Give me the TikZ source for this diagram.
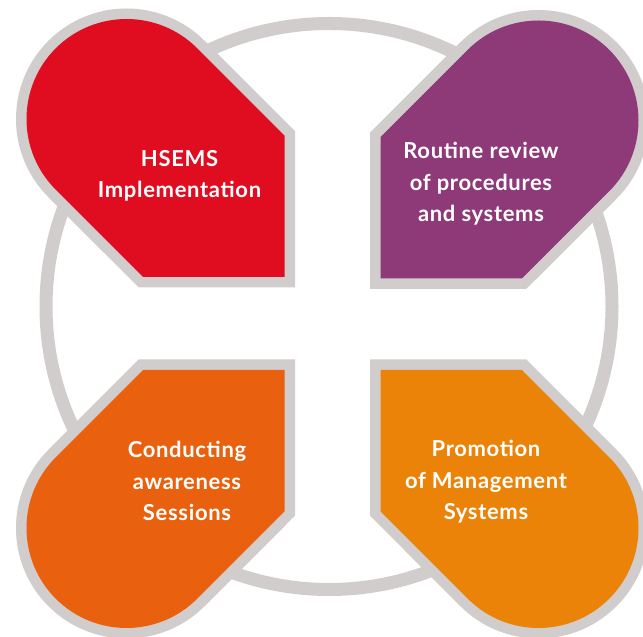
\documentclass[tikz,border=0pt]{standalone}
\usepackage{fontspec}
\setmainfont{Lato}[LetterSpace=3]
\definecolor{ringgray}{HTML}{D1CDCC}
\definecolor{petalred}{HTML}{E00D21}
\definecolor{petalpurple}{HTML}{8E3978}
\definecolor{petalorange}{HTML}{E9610E}
\definecolor{petalamber}{HTML}{EC8309}
% petal: square corner at the origin, rounded end towards (-x,+y)
\newcommand\petal[1]{%
  \path[fill=#1, preaction={draw=ringgray, line width=21, line join=miter}]
    (0,0) -- (0,141.4) -- ({-158+100*cos(45)},{158+100*sin(45)})
    arc[start angle=45, end angle=225, radius=100] -- (-141.4,0) -- cycle;}
\tikzset{
  label/.style={align=center, text=white, inner sep=0pt, anchor=base,
    font=\fontsize{22}{31.5}\selectfont\bfseries}
}
\begin{document}
\begin{tikzpicture}[x=1pt,y=1pt]
\useasboundingbox (0,0) rectangle (643,637);
\fill[white] (0,0) rectangle (643,637);
% outer ring
\draw[ringgray, line width=13] (329,330.5) circle[radius=283];
% four petals
\begin{scope}[shift={(284.5,360)}]\petal{petalred}\end{scope}
\begin{scope}[shift={(380.5,358.5)}, xscale=-1]\petal{petalpurple}\end{scope}
\begin{scope}[shift={(284.5,267)}, yscale=-1]\petal{petalorange}\end{scope}
\begin{scope}[shift={(380.5,267)}, xscale=-1, yscale=-1]\petal{petalamber}\end{scope}
% labels (base anchor sits on the last line)
\node[label] (hsems) at (179.5,439) {HSEMS\\Implementation};
\node[label] (review) at (481,415) {Routine review\\of procedures\\and systems};
\node[label] (aware) at (187,116.3) {Conducting\\awareness\\Sessions};
\node[label] (promo) at (486,117) {Promotion\\of Management\\Systems};
\end{tikzpicture}
\end{document}
